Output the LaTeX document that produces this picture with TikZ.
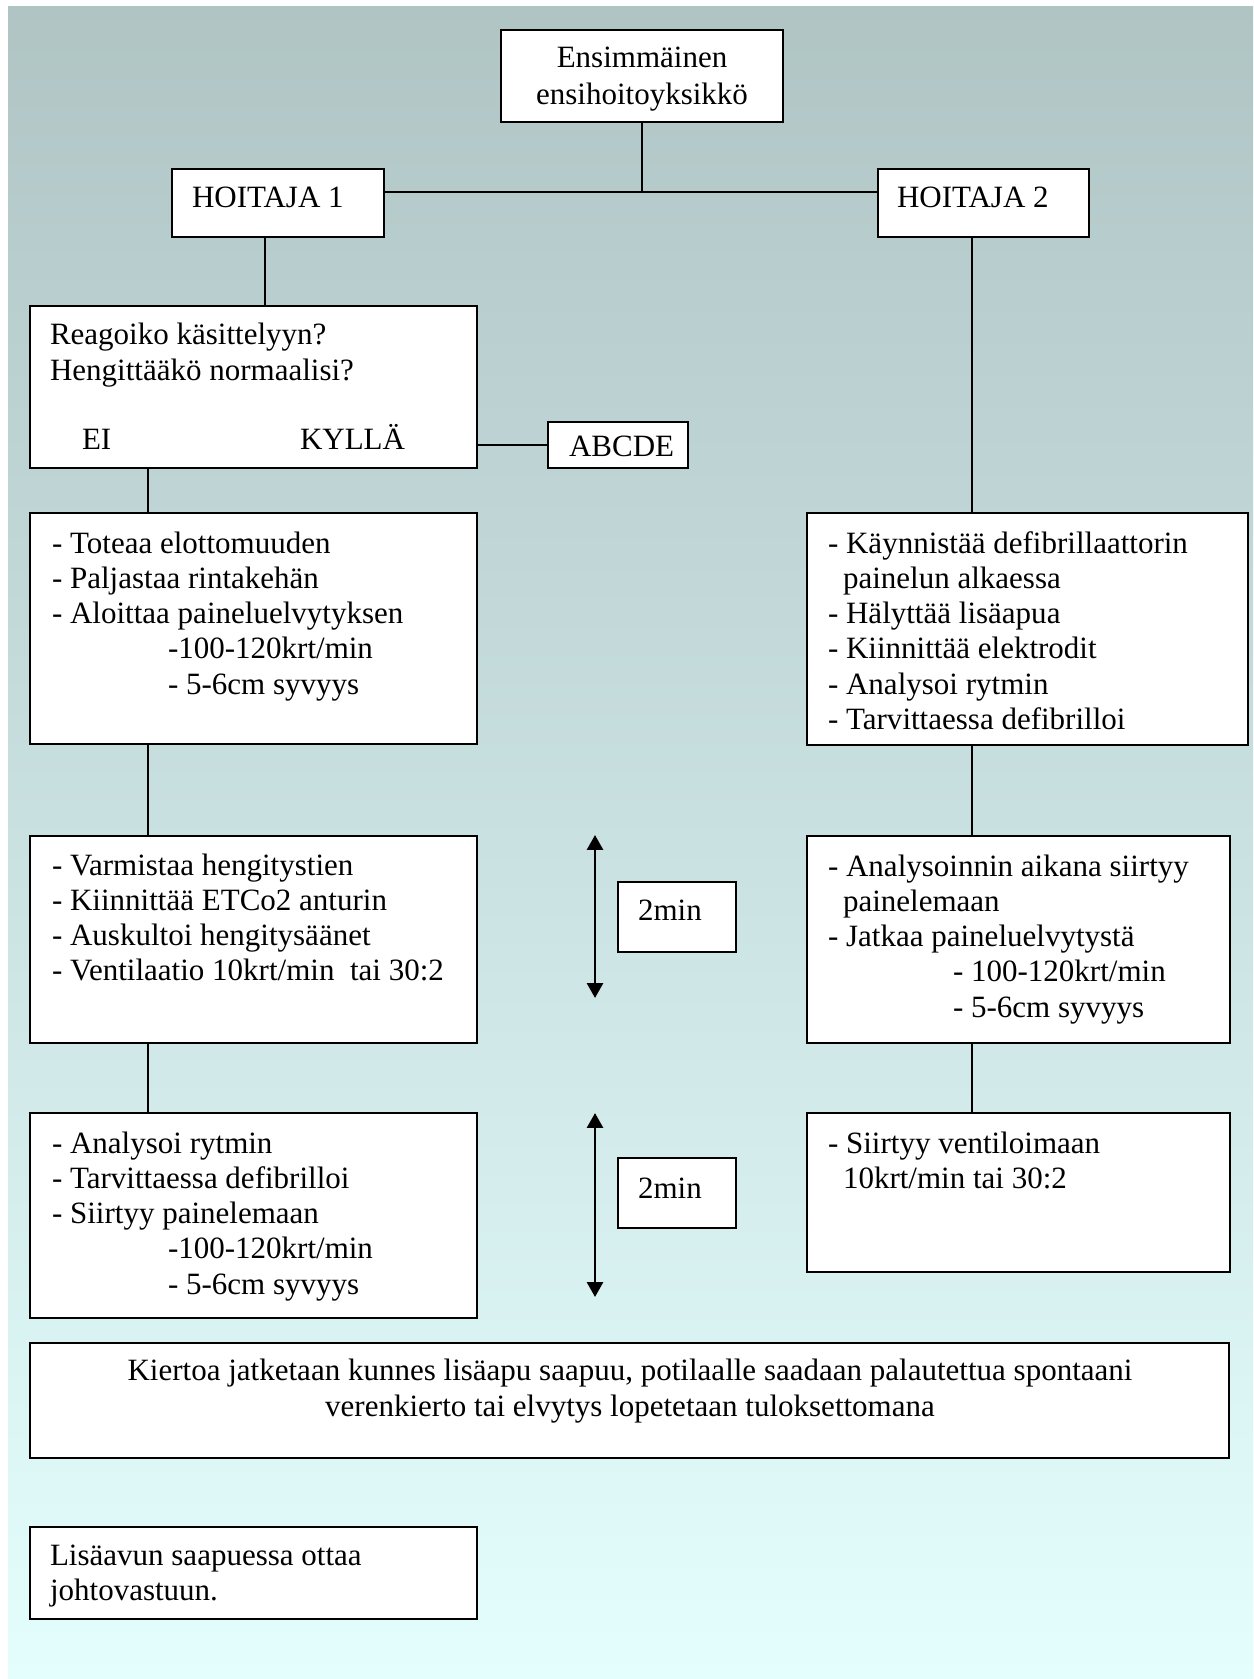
\documentclass[tikz,border=0pt]{standalone}
\usepackage{fontspec}
\setmainfont{Liberation Serif}
\usetikzlibrary{arrows.meta}
\definecolor{bgtop}{RGB}{176,196,196}
\definecolor{bgbot}{RGB}{228,254,254}
\newlength\pxu \setlength\pxu{0.387pt}
\newcommand{\boxnode}[5]{\node[boxst, minimum width={(#4-#2)*0.387pt}, minimum height={(#5-#3)*0.387pt}] (#1) at ({(#2+#4)/2},{(#3+#5)/2}) {};}
\newcommand{\tx}[4]{\node[txt, anchor=base west] (#1) at (#2,#3) {\parbox[t]{460\pxu}{\raggedright #4}};}
\newcommand{\ind}[1]{\hspace*{#1\pxu}}
\begin{document}
\begin{tikzpicture}[x=0.387pt, y=-0.387pt,
  boxst/.style={draw=black, fill=white, line width=0.7pt, inner sep=0pt, outer sep=0pt},
  conn/.style={draw=black, line width=0.5pt},
  dblarr/.style={draw=black, line width=1.1pt, {Triangle[length=5.8pt,width=6.2pt]}-{Triangle[length=5.8pt,width=6.2pt]}},
  txt/.style={inner sep=0pt, outer sep=0pt, font=\fontsize{12pt}{13.65pt}\selectfont}]
\useasboundingbox (0,0) rectangle (1253,1679);
\shade[top color=bgtop, bottom color=bgbot] (8,7) rectangle (1253,1679);

% boxes
\boxnode{top}{501}{30}{783}{122}
\boxnode{h1}{172}{169}{384}{237}
\boxnode{h2}{878}{169}{1089}{237}
\boxnode{reag}{30}{306}{477}{468}
\boxnode{abc}{548}{422}{688}{468}
\boxnode{tot}{30}{513}{477}{744}
\boxnode{kay}{807}{513}{1248}{745}
\boxnode{var}{30}{836}{477}{1043}
\boxnode{ana}{807}{836}{1230}{1043}
\boxnode{rytm}{30}{1113}{477}{1318}
\boxnode{siir}{807}{1113}{1230}{1272}
\boxnode{min1}{618}{882}{736}{952}
\boxnode{min2}{618}{1158}{736}{1228}
\boxnode{kier}{30}{1343}{1229}{1458}
\boxnode{lisa}{30}{1527}{477}{1619}

% connector guide coordinates
\coordinate (jn) at (642,192);
\coordinate (cH1) at (265,0);
\coordinate (cH2) at (972,0);
\coordinate (cL) at (148,0);
\coordinate (cA) at (0,445);

\draw[conn] (top.south -| jn) -- (jn);
\draw[conn] (h1.east |- jn) -- (h2.west |- jn);
\draw[conn] (h1.south -| cH1) -- (reag.north -| cH1);
\draw[conn] (h2.south -| cH2) -- (kay.north -| cH2);
\draw[conn] (reag.east |- cA) -- (abc.west |- cA);
\draw[conn] (reag.south -| cL) -- (tot.north -| cL);
\draw[conn] (tot.south -| cL) -- (var.north -| cL);
\draw[conn] (var.south -| cL) -- (rytm.north -| cL);
\draw[conn] (kay.south -| cH2) -- (ana.north -| cH2);
\draw[conn] (ana.south -| cH2) -- (siir.north -| cH2);

% double arrows
\coordinate (a1t) at (595,835);
\coordinate (a1b) at (595,998);
\coordinate (a2t) at (595,1113);
\coordinate (a2b) at (595,1297);
\draw[dblarr] (a1t) -- (a1b);
\draw[dblarr] (a2t) -- (a2b);

% texts
\node[txt, anchor=base] (ttop) at (642,68) {\parbox[t]{280\pxu}{\fontsize{12pt}{14.3pt}\selectfont\centering Ensimmäinen\\ensihoitoyksikkö}};
\tx{th1}{192}{208}{HOITAJA 1}
\tx{th2}{897}{208}{HOITAJA 2}
\tx{treag}{50}{345}{Reagoiko käsittelyyn?\\Hengittääkö normaalisi?}
\tx{tei}{82}{450}{EI}
\tx{tkyl}{300}{450}{KYLLÄ}
\tx{tabc}{569}{457}{ABCDE}
\tx{ttot}{52}{553}{- Toteaa elottomuuden\\- Paljastaa rintakehän\\- Aloittaa paineluelvytyksen\\\ind{116}-100-120krt/min\\\ind{116}- 5-6cm syvyys}
\tx{tkay}{828}{553}{- Käynnistää defibrillaattorin\\\ind{15}painelun alkaessa\\- Hälyttää lisäapua\\- Kiinnittää elektrodit\\- Analysoi rytmin\\- Tarvittaessa defibrilloi}
\tx{tvar}{52}{875}{- Varmistaa hengitystien\\- Kiinnittää ETCo2 anturin\\- Auskultoi hengitysäänet\\- Ventilaatio 10krt/min\ \ tai 30:2}
\tx{tana}{828}{876}{- Analysoinnin aikana siirtyy\\\ind{15}painelemaan\\- Jatkaa paineluelvytystä\\\ind{125}- 100-120krt/min\\\ind{125}- 5-6cm syvyys}
\tx{trytm}{52}{1153}{- Analysoi rytmin\\- Tarvittaessa defibrilloi\\- Siirtyy painelemaan\\\ind{116}-100-120krt/min\\\ind{116}- 5-6cm syvyys}
\tx{tsiir}{828}{1153}{- Siirtyy ventiloimaan\\\ind{15}10krt/min tai 30:2}
\tx{tmin1}{638}{920}{2min}
\tx{tmin2}{638}{1198}{2min}
\node[txt, anchor=base] (tkier) at (630,1380) {\parbox[t]{1150\pxu}{\fontsize{12pt}{14.1pt}\selectfont\centering Kiertoa jatketaan kunnes lisäapu saapuu, potilaalle saadaan palautettua spontaani\\verenkierto tai elvytys lopetetaan tuloksettomana}};
\tx{tlisa}{50}{1565}{Lisäavun saapuessa ottaa\\johtovastuun.}
\end{tikzpicture}
\end{document}
